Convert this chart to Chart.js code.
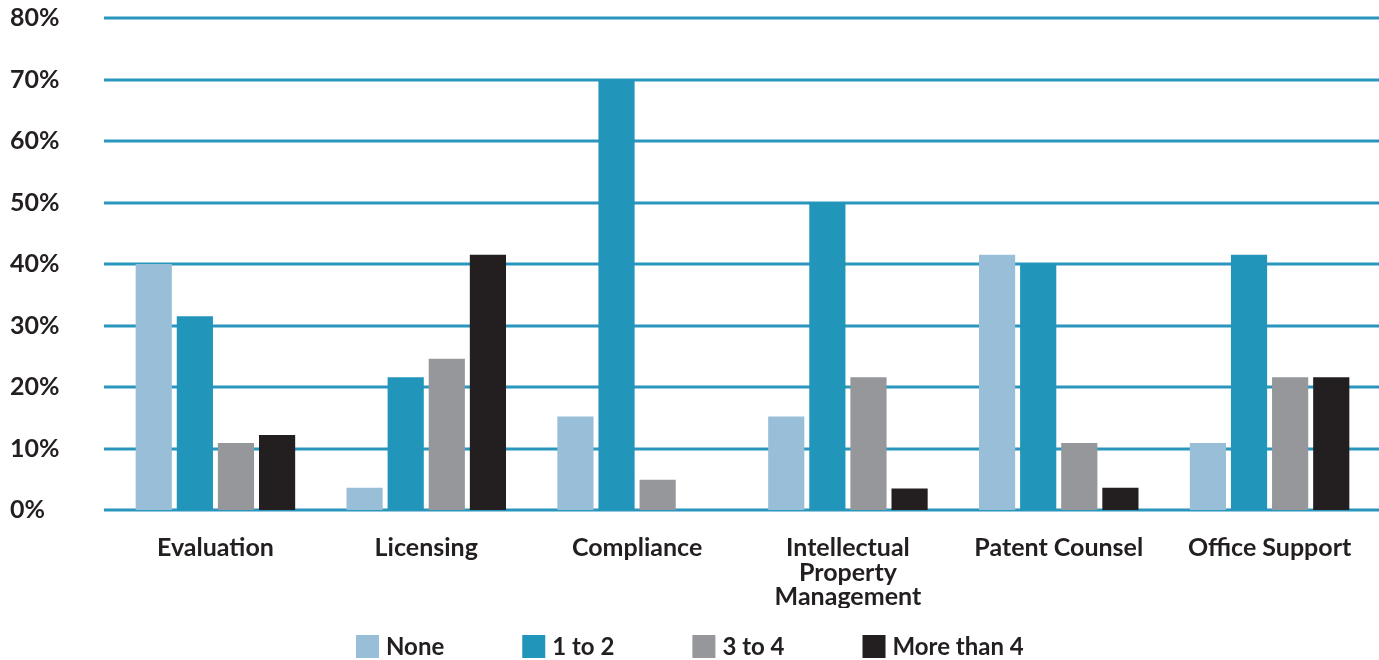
<!DOCTYPE html>
<html>
<head>
<meta charset="utf-8">
<script src="https://cdn.jsdelivr.net/npm/chart.js@4"></script>
<style>
  html, body { margin: 0; padding: 0; background: #fff; }
  #wrap { width: 1379px; height: 660px; position: relative; }
</style>
</head>
<body>
<div id="wrap"><canvas id="grafico"></canvas></div>
<script>
// categorias y series (porcentajes)
const categorias = ['Evaluation', 'Licensing', 'Compliance', ['Intellectual', 'Property', 'Management'], 'Patent Counsel', 'Office Support'];
const ninguno = [40, 3.6, 15.2, 15.2, 41.5, 10.9];
const unoADos = [31.5, 21.6, 70, 50, 40, 41.5];
const tresACuatro = [10.9, 24.6, 4.9, 21.6, 10.9, 21.6];
const masDeCuatro = [12.2, 41.5, 0, 3.5, 3.6, 21.6];
const nombresSeries = ['None', '1 to 2', '3 to 4', 'More than 4'];
const colores = ['#98bfd7', '#2195ba', '#96979b', '#231f20'];

const texto = '#231f20';
const fuente = 'Lato, "Open Sans", sans-serif';

// lineas horizontales un poco mas anchas que el area del grafico
const lineasFondo = {
    id: 'lineasFondo',
    beforeDatasetsDraw(chart) {
        const ctx = chart.ctx;
        const y = chart.scales.y;
        ctx.save();
        ctx.strokeStyle = '#2a96bd';
        ctx.lineWidth = 3;
        y.ticks.forEach(t => {
            const py = Math.round(y.getPixelForValue(t.value));
            ctx.beginPath();
            ctx.moveTo(104, py);
            ctx.lineTo(chart.width, py);
            ctx.stroke();
        });
        ctx.restore();
    }
};

// leyenda propia abajo (la de Chart.js usa el mismo padding en vertical)
const leyendaAbajo = {
    id: 'leyendaAbajo',
    afterDraw(chart) {
        const ctx = chart.ctx;
        const caja = 23, hueco = 7, separacion = 78;
        const yMedio = 646;
        ctx.save();
        ctx.font = 'bold 24px ' + fuente;
        ctx.textBaseline = 'middle';
        const items = chart.data.datasets.map(ds => ({
            texto: ds.label,
            color: ds.backgroundColor,
            ancho: ctx.measureText(ds.label).width
        }));
        const total = items.reduce((s, it) => s + caja + hueco + it.ancho, 0) + separacion * (items.length - 1);
        let x = Math.round((chart.width - total) / 2);
        items.forEach(it => {
            ctx.fillStyle = it.color;
            ctx.fillRect(x, yMedio - 11, caja, caja);
            ctx.fillStyle = texto;
            ctx.fillText(it.texto, x + caja + hueco, yMedio + 1);
            x += caja + hueco + it.ancho + separacion;
        });
        ctx.restore();
    }
};

const datos = [ninguno, unoADos, tresACuatro, masDeCuatro];

new Chart(document.getElementById('grafico'), {
    type: 'bar',
    data: {
        labels: categorias,
        datasets: datos.map((serie, i) => ({
            label: nombresSeries[i],
            data: serie,
            backgroundColor: colores[i],
            borderWidth: 0,
            barPercentage: 0.88,
            categoryPercentage: 0.78
        }))
    },
    options: {
        responsive: true,
        maintainAspectRatio: false,
        animation: false,
        layout: { padding: { left: 10, right: 4, top: 18, bottom: 52 } },
        scales: {
            x: {
                grid: { display: false, drawTicks: false },
                border: { display: false },
                afterFit(escala) { escala.height = 98; },
                ticks: {
                    color: texto,
                    font: { family: fuente, size: 25, weight: 'bold', lineHeight: 0.98 },
                    padding: 26,
                    maxRotation: 0,
                    autoSkip: false
                }
            },
            y: {
                min: 0,
                max: 80,
                grid: { display: false, drawTicks: false },
                border: { display: false },
                afterFit(escala) { escala.width = 100; },
                ticks: {
                    stepSize: 10,
                    color: texto,
                    crossAlign: 'far',
                    font: { family: fuente, size: 25, weight: 'bold' },
                    callback: v => v + '%'
                }
            }
        },
        plugins: {
            tooltip: { enabled: false },
            legend: { display: false }
        }
    },
    plugins: [lineasFondo, leyendaAbajo]
});
</script>
</body>
</html>
